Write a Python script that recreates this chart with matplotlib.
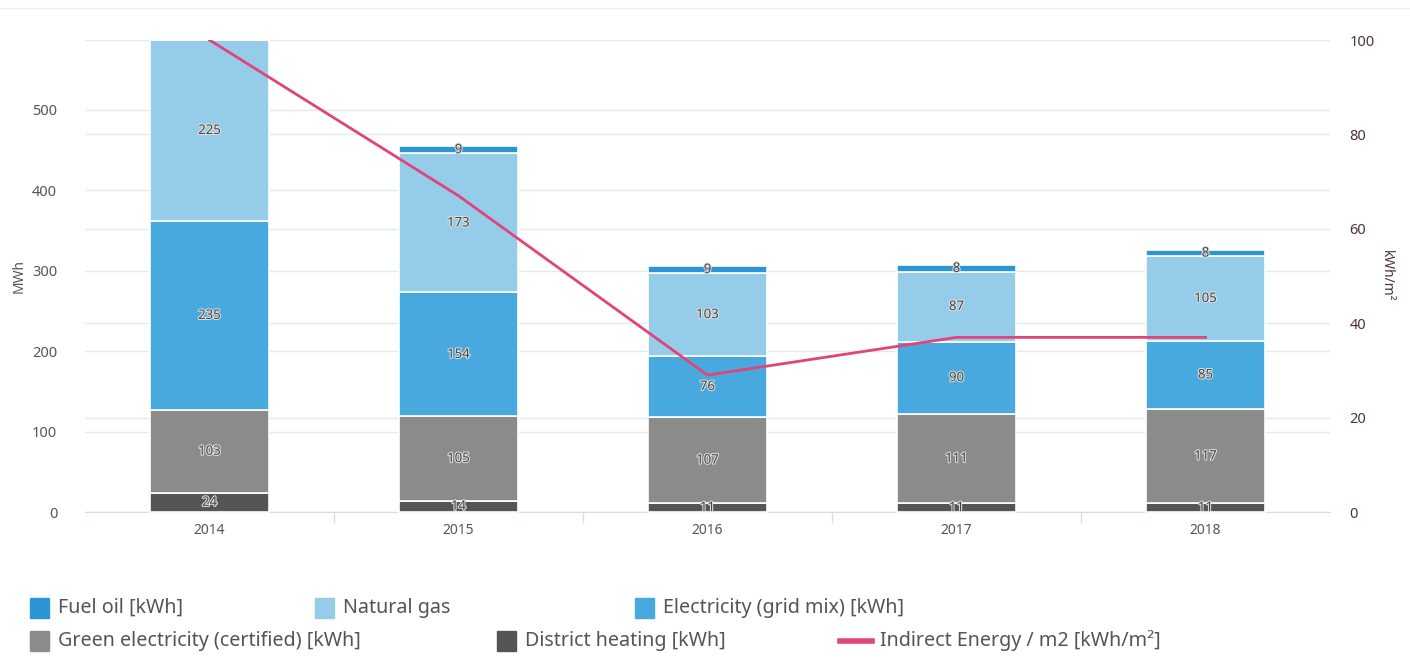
import matplotlib
matplotlib.use("Agg")
import matplotlib.pyplot as plt
import matplotlib.patheffects as pe
from matplotlib.patches import Rectangle
from matplotlib.lines import Line2D
import numpy as np

plt.rcParams['font.family'] = ['Noto Sans', 'DejaVu Sans']

years = ["2014", "2015", "2016", "2017", "2018"]
district_heating = [24, 14, 11, 11, 11]
green_electricity = [103, 105, 107, 111, 117]
electricity_grid = [235, 154, 76, 90, 85]
natural_gas = [225, 173, 103, 87, 105]
fuel_oil = [0, 9, 9, 8, 8]
indirect_energy = [100, 67, 29, 37, 37]

series = [
    ("District heating [kWh]", district_heating, "#555555"),
    ("Green electricity (certified) [kWh]", green_electricity, "#8b8c89"),
    ("Electricity (grid mix) [kWh]", electricity_grid, "#47a9dd"),
    ("Natural gas", natural_gas, "#94cce9"),
    ("Fuel oil [kWh]", fuel_oil, "#2b95d6"),
]

fig = plt.figure(figsize=(14.1, 6.57), dpi=100)
ax = fig.add_axes([85/1410, 1-512/657, (1330-85)/1410, (512-40)/657])
ax2 = ax.twinx()

x = np.arange(len(years))
bottom = np.zeros(len(years))
for name, vals, col in series:
    v = np.array(vals, dtype=float)
    ax.bar(x, v, 0.48, bottom=bottom, color=col, edgecolor="white", linewidth=1.2, zorder=3,
           clip_on=False)
    for xi, b, h in zip(x, bottom, v):
        if h > 0:
            ax.text(xi, b + h/2, str(int(h)), ha="center", va="center", fontsize=9.5,
                    color="#444444", zorder=5,
                    path_effects=[pe.withStroke(linewidth=1.5, foreground="#e0e0e0")])
    bottom += v

ax.set_xlim(-0.5, 4.5)
ax.set_ylim(0, 587)
ax.set_yticks([0, 100, 200, 300, 400, 500])
ax.set_xticks(x)
ax.set_xticklabels(years)
ax.set_xticks(np.arange(0.5, 4.5, 1), minor=True)
ax.tick_params(axis="x", which="minor", length=8, color="#d5dde5", width=1)
ax.tick_params(axis="x", which="major", length=0, labelsize=10, labelcolor="#555555", pad=8)
ax.tick_params(axis="y", length=0, labelsize=10.5, labelcolor="#555555", pad=20)
ax.yaxis.grid(True, color="#e6e9ec", linewidth=1, zorder=0)
ax.set_axisbelow(True)
for s in ["top", "right", "left"]:
    ax.spines[s].set_visible(False)
ax.spines["bottom"].set_color("#d5dde5")
ax.set_ylabel("MWh", fontsize=10, color="#555555", labelpad=4)

ax2.set_ylim(0, 100)
ax2.set_yticks([0, 20, 40, 60, 80, 100])
ax2.tick_params(axis="y", length=0, labelsize=10.5, labelcolor="#4a3340", pad=14)
ax2.yaxis.grid(True, color="#e6e9ec", linewidth=1)
for s in ["top", "right", "left", "bottom"]:
    ax2.spines[s].set_visible(False)
ax2.set_ylabel("kWh/m²", fontsize=10, color="#4a3340", rotation=-90, labelpad=14)

# bars axis above the right axis (so its gridlines stay behind bars)
ax2.set_zorder(0)
ax.set_zorder(1)
ax.patch.set_visible(False)
# line uses the right axis scale
ax.plot(x, indirect_energy, color="#e2437a", linewidth=2, zorder=6,
        transform=ax2.transData)

# top page line
fig.add_artist(Line2D([0, 1], [1-8/657, 1-8/657], color="#eeeeee", linewidth=1))

# legend
leg_items = [
    ("Fuel oil [kWh]", "#2b95d6", 30, 608, "box"),
    ("Natural gas", "#94cce9", 315, 608, "box"),
    ("Electricity (grid mix) [kWh]", "#47a9dd", 635, 608, "box"),
    ("Green electricity (certified) [kWh]", "#8b8c89", 30, 641, "box"),
    ("District heating [kWh]", "#555555", 497, 641, "box"),
    ("Indirect Energy / m2 [kWh/m²]", "#e2437a", 840, 641, "line"),
]
W, H = 1410, 657
for label, col, px, py, kind in leg_items:
    if kind == "box":
        fig.add_artist(Rectangle((px/W, 1-(py+10)/H), 19/W, 20/H, color=col, transform=fig.transFigure))
        tx = px + 28
    else:
        fig.add_artist(Line2D([px/W, (px+32)/W], [1-py/H, 1-py/H], color=col, linewidth=4,
                              transform=fig.transFigure))
        tx = px + 40
    fig.text(tx/W, 1-py/H, label, fontsize=14.2, color="#555555", va="center", ha="left")

fig.savefig("out.png", dpi=100)
